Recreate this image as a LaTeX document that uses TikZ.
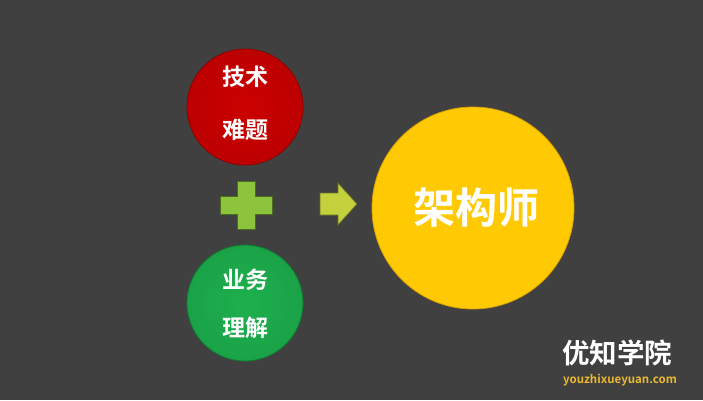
\documentclass[tikz,border=0pt]{standalone}
\usepackage{fontspec}
\newfontfamily\cjk{Noto Sans CJK SC Bold}
\setmainfont{Noto Sans CJK SC}
\definecolor{bg}{HTML}{404040}
\definecolor{redc}{HTML}{CC0000}
\definecolor{redd}{HTML}{8E0000}
\definecolor{greenc}{HTML}{1DB04E}
\definecolor{greend}{HTML}{0E7A30}
\definecolor{yellowc}{HTML}{FFC904}
\definecolor{yellowd}{HTML}{D8A000}
\definecolor{plusc}{HTML}{8CC43C}
\definecolor{arrc}{HTML}{C4D03C}
\definecolor{urlc}{HTML}{E8B830}
\tikzset{
  ball/.style={circle, inner sep=0pt, line width=0.8pt},
  lbl/.style={text=white, font=\cjk\fontsize{23}{27}\selectfont, inner sep=0pt},
}
\begin{document}
\begin{tikzpicture}[x=1pt,y=-1pt]
\fill[bg] (0,0) rectangle (703,400);
\useasboundingbox (0,0) rectangle (703,400);
% circles
\node[ball, minimum size=116pt, draw=redd, inner color=redc, outer color=redc!92!black] (red) at (245,107) {};
\node[ball, minimum size=116pt, draw=greend, inner color=greenc, outer color=greenc!92!black] (green) at (245,303) {};
\node[ball, minimum size=202pt, draw=yellowd, fill=yellowc] (yellow) at (473,208) {};
\node[lbl] (t1) at (245,77) {技术};
\node[lbl] (t2) at (245,130) {难题};
\node[lbl] (t3) at (245,280) {业务};
\node[lbl] (t4) at (245,328) {理解};
\node[text=white, font=\cjk\fontsize{42}{48}\selectfont, inner sep=0pt] (arch) at (476,208) {架构师};
% plus
\begin{scope}[shift={(246,205)}]
\fill[plusc, draw=plusc!55!black, line width=0.8pt]
  (-9,-24) -- (9,-24) -- (9,-9) -- (26,-9) -- (26,9) -- (9,9) -- (9,24) -- (-9,24) -- (-9,9) -- (-26,9) -- (-26,-9) -- (-9,-9) -- cycle;
\end{scope}
% arrow
\begin{scope}[shift={(320,204)}]
\fill[arrc, draw=arrc!55!black, line width=0.8pt]
  (0,-11) -- (18,-11) -- (18,-21) -- (37,0) -- (18,21) -- (18,11) -- (0,11) -- cycle;
\end{scope}
% logo
\node[text=white, font=\cjk\fontsize{27.5}{31}\selectfont, inner sep=0pt] (logo) at (617,353) {优知学院};
\node[text=urlc, font=\cjk\fontsize{11.5}{13}\selectfont, inner sep=0pt] (url) at (620,380) {youzhixueyuan.com};
\end{tikzpicture}
\end{document}
